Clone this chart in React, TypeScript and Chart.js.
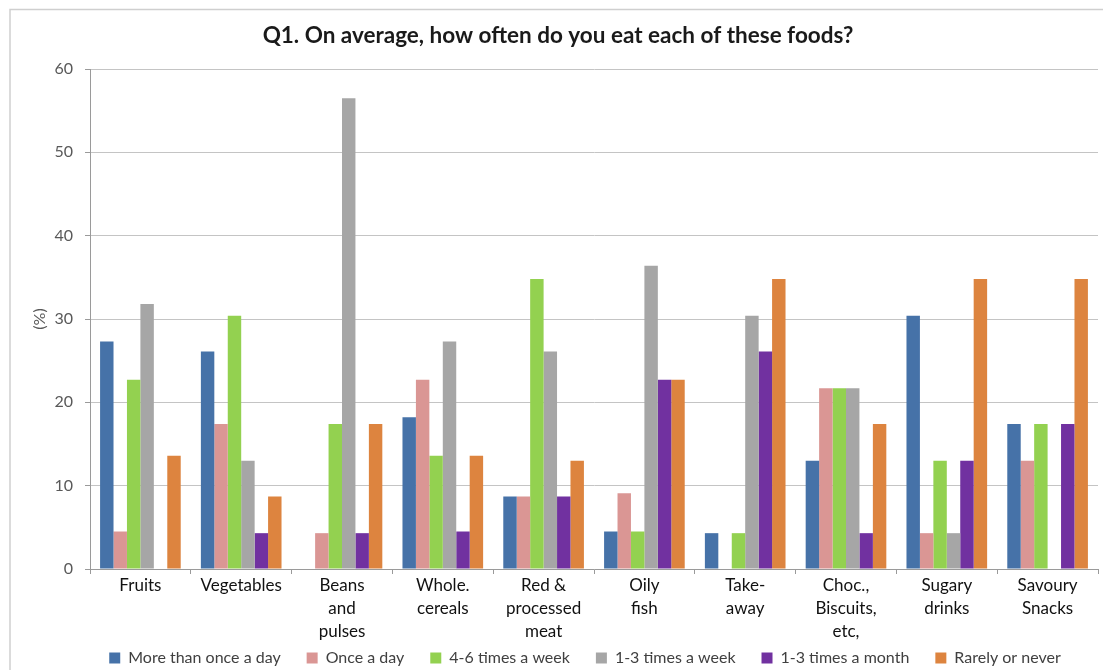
import React, { useEffect, useRef } from "react";
import { Chart, registerables } from "chart.js";

Chart.register(...registerables);

const categories: string[][] = [
  ["Fruits"],
  ["Vegetables"],
  ["Beans", "and", "pulses"],
  ["Whole.", "cereals"],
  ["Red &", "processed", "meat"],
  ["Oily", "fish"],
  ["Take-", "away"],
  ["Choc.,", "Biscuits,", "etc,"],
  ["Sugary", "drinks"],
  ["Savoury", "Snacks"],
];

const seriesNames = [
  "More than once a day",
  "Once a day",
  "4-6 times a week",
  "1-3 times a week",
  "1-3 times a month",
  "Rarely or never",
];

const moreThanOnceADay = [27.3, 26.1, 0, 18.2, 8.7, 4.5, 4.3, 13.0, 30.4, 17.4];
const onceADay = [4.5, 17.4, 4.3, 22.7, 8.7, 9.1, 0, 21.7, 4.3, 13.0];
const fourToSixWeek = [22.7, 30.4, 17.4, 13.6, 34.8, 4.5, 4.3, 21.7, 13.0, 17.4];
const oneToThreeWeek = [31.8, 13.0, 56.5, 27.3, 26.1, 36.4, 30.4, 21.7, 4.3, 0];
const oneToThreeMonth = [0, 4.3, 4.3, 4.5, 8.7, 22.7, 26.1, 4.3, 13.0, 17.4];
const rarelyOrNever = [13.6, 8.7, 17.4, 13.6, 13.0, 22.7, 34.8, 17.4, 34.8, 34.8];

const yTicks = [0, 10, 20, 30, 40, 50, 60];

const colors = ["#4672A8", "#DA9694", "#93D150", "#A6A6A6", "#7131A0", "#DD843F"];

const FONT = "Lato, 'Open Sans', sans-serif";

export default function App() {
  const ref = useRef<HTMLCanvasElement | null>(null);

  useEffect(() => {
    if (!ref.current) return;
    const values = [moreThanOnceADay, onceADay, fourToSixWeek, oneToThreeWeek, oneToThreeMonth, rarelyOrNever];
    const framePlugin = {
      id: "frame",
      beforeDraw(chart: any) {
        const ctx = chart.ctx;
        ctx.save();
        ctx.fillStyle = "#ffffff";
        ctx.fillRect(0, 0, chart.width, chart.height);
        ctx.strokeStyle = "#CFCFCF";
        ctx.lineWidth = 1.5;
        ctx.strokeRect(10, 9.5, chart.width + 20, chart.height + 20);
        ctx.restore();
      },
      afterLayout(chart: any) {
        const lg = chart.legend;
        if (lg) {
          lg.left += 36;
          lg.right += 36;
          lg.top = 624;
          lg.bottom = 670;
        }
        const tb = chart.titleBlock;
        if (tb) {
          tb.left += 9;
          tb.right += 9;
        }
      },
    };
    const chart = new Chart(ref.current, {
      type: "bar",
      data: {
        labels: categories,
        datasets: seriesNames.map((name, i) => ({
          label: name,
          data: values[i],
          backgroundColor: colors[i],
          borderWidth: 0,
          categoryPercentage: 0.8,
          barPercentage: 1.0,
        })),
      },
      options: {
        responsive: false,
        animation: false,
        layout: { padding: { left: 0, right: 5, top: 0, bottom: 0 } },
        plugins: {
          title: {
            display: true,
            text: "Q1. On average, how often do you eat each of these foods?",
            color: "#1a1a1a",
            font: { family: FONT, size: 22.5, weight: "bold", lineHeight: 1.2 },
            padding: { top: 22.5, bottom: 19.5 },
          },
          legend: {
            position: "bottom",
            maxHeight: 20,
            labels: {
              color: "#404040",
              font: { family: FONT, size: 16 },
              boxWidth: 11,
              boxHeight: 11,
              padding: 26,
            },
          },
          tooltip: { enabled: false },
        },
        scales: {
          x: {
            grid: {
              display: true,
              drawOnChartArea: false,
              drawTicks: true,
              tickLength: 5,
              color: "#9A9A9A",
              offset: true,
            },
            border: { display: true, color: "#9A9A9A" },
            ticks: {
              color: "#111111",
              font: { family: FONT, size: 17, lineHeight: 1.35 },
              padding: 0.5,
              autoSkip: false,
              maxRotation: 0,
              minRotation: 0,
            },
            afterFit(scale: any) {
              scale.height = 81;
            },
          },
          y: {
            min: 0,
            max: 60,
            afterBuildTicks(scale: any) {
              scale.ticks = yTicks.map((v) => ({ value: v }));
            },
            grid: {
              color: "#C4C4C4",
              tickLength: 5,
              tickColor: "#9A9A9A",
            },
            border: { display: true, color: "#9A9A9A" },
            ticks: {
              color: "#595959",
              font: { family: FONT, size: 16 },
              padding: 12,
            },
            title: {
              display: true,
              text: "(%)",
              color: "#595959",
              font: { family: FONT, size: 16, lineHeight: 1.2 },
              padding: { top: 30, bottom: 0 },
            },
            afterFit(scale: any) {
              scale.width = 90;
            },
          },
        },
      },
      plugins: [framePlugin],
    } as any);
    return () => chart.destroy();
  }, []);

  return (
    <div style={{ position: "absolute", left: 0, top: 0, width: 1103, height: 670 }}>
      <canvas ref={ref} width={1103} height={670} style={{ display: "block" }} />
    </div>
  );
}
